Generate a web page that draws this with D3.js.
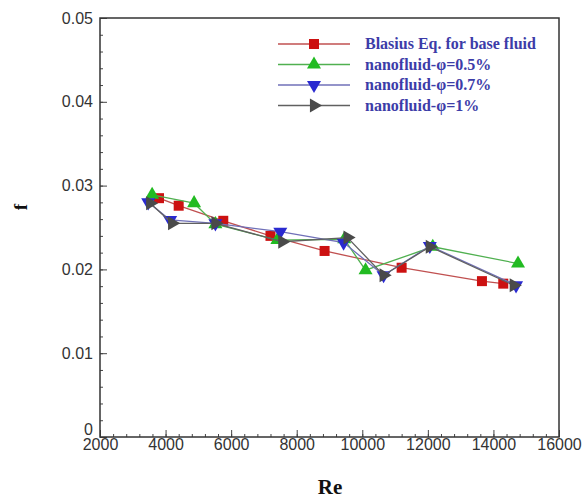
<!DOCTYPE html>
<html>
<head>
<meta charset="utf-8">
<script src="https://cdn.jsdelivr.net/npm/d3@7"></script>
<style>
  body { margin: 0; background: #fff; }
  svg { display: block; }
</style>
</head>
<body>
<div id="chart"></div>
<script>
// data
var seriesNames = ["Blasius Eq. for base fluid", "nanofluid-\u03c6=0.5%", "nanofluid-\u03c6=0.7%", "nanofluid-\u03c6=1%"];

var blasiusRe = [3800, 4400, 5760, 7200, 8850, 11200, 13650, 14300];
var blasiusF  = [0.0285, 0.0276, 0.0258, 0.0240, 0.0222, 0.0202, 0.0186, 0.0183];

var phi05Re = [3590, 4870, 5520, 7410, 9450, 10100, 12150, 14750];
var phi05F  = [0.0289, 0.0279, 0.0254, 0.0235, 0.0236, 0.0199, 0.0227, 0.0207];

var phi07Re = [3470, 4140, 5520, 7500, 9430, 10650, 12060, 14690];
var phi07F  = [0.0280, 0.0259, 0.0255, 0.0245, 0.0232, 0.0193, 0.0228, 0.0181];

var phi1Re = [3530, 4200, 5520, 7560, 9550, 10650, 12060, 14620];
var phi1F  = [0.0279, 0.0255, 0.0255, 0.0233, 0.0238, 0.0193, 0.0227, 0.0181];

var xTicks = [2000, 4000, 6000, 8000, 10000, 12000, 14000, 16000];
var yTicks = [0, 0.01, 0.02, 0.03, 0.04, 0.05];

var svgWidth = 584, svgHeight = 500;
var plotLeft = 100, plotRight = 559, plotTop = 18, plotBottom = 437;

var svg = d3.select('#chart').append('svg').attr('width', svgWidth).attr('height', svgHeight);

var x = d3.scaleLinear().domain([2000, 16000]).range([plotLeft, plotRight]);
var y = d3.scaleLinear().domain([0, 0.05]).range([plotBottom, plotTop]);

// minor ticks
var xMinor = d3.range(2000, 16001, 400);
var yMinor = d3.range(0, 0.0501, 0.002);

svg.append('g').attr('transform', 'translate(0,' + plotBottom + ')')
    .call(d3.axisBottom(x).tickValues(xMinor).tickSize(-3).tickFormat(''))
    .call(function(g) { g.select('.domain').remove(); })
    .selectAll('line').attr('stroke', '#444');

svg.append('g').attr('transform', 'translate(' + plotLeft + ',0)')
    .call(d3.axisLeft(y).tickValues(yMinor).tickSize(-3).tickFormat(''))
    .call(function(g) { g.select('.domain').remove(); })
    .selectAll('line').attr('stroke', '#444');

// major axes
var xAxis = svg.append('g').attr('transform', 'translate(0,' + plotBottom + ')')
    .call(d3.axisBottom(x).tickValues(xTicks).tickSize(-7).tickPadding(2).tickFormat(d3.format('d')));
xAxis.select('.domain').remove();
xAxis.selectAll('line').attr('stroke', '#444');
xAxis.selectAll('text')
    .attr('font-family', 'Liberation Sans, Arial, sans-serif')
    .attr('font-size', 16).attr('fill', '#333');

var yAxis = svg.append('g').attr('transform', 'translate(' + plotLeft + ',0)')
    .call(d3.axisLeft(y).tickValues(yTicks).tickSize(-7).tickPadding(7).tickFormat(function(d) { return d === 0 ? '0' : d3.format('.2f')(d); }));
yAxis.select('.domain').remove();
yAxis.selectAll('line').attr('stroke', '#444');
yAxis.selectAll('text')
    .attr('font-family', 'Liberation Sans, Arial, sans-serif')
    .attr('font-size', 16).attr('fill', '#333');
yAxis.selectAll('.tick').filter(function(d) { return d === 0; }).select('text').attr('dy', '-0.15em');

// frame
svg.append('rect')
    .attr('x', plotLeft).attr('y', plotTop)
    .attr('width', plotRight - plotLeft).attr('height', plotBottom - plotTop)
    .attr('fill', 'none').attr('stroke', '#333').attr('stroke-width', 1.5);

// series
var series = [
    { re: blasiusRe, f: blasiusF, line: '#c05050', fill: '#cc1111', shape: d3.symbolSquare, rot: 0, size: 100 },
    { re: phi05Re, f: phi05F, line: '#50b050', fill: '#22bb22', shape: d3.symbolTriangle, rot: 0, size: 85 },
    { re: phi07Re, f: phi07F, line: '#7070b8', fill: '#2a2ad0', shape: d3.symbolTriangle, rot: 180, size: 85 },
    { re: phi1Re, f: phi1F, line: '#606060', fill: '#4a4a4a', shape: d3.symbolTriangle, rot: 90, size: 85 }
];

var line = d3.line().x(function(d) { return x(d[0]); }).y(function(d) { return y(d[1]); });

series.forEach(function(s) {
    var pts = s.re.map(function(r, i) { return [r, s.f[i]]; });
    svg.append('path').datum(pts)
        .attr('d', line).attr('fill', 'none')
        .attr('stroke', s.line).attr('stroke-width', 1.3);
    svg.selectAll(null).data(pts).enter().append('path')
        .attr('d', d3.symbol().type(s.shape).size(s.size))
        .attr('transform', function(d) { return 'translate(' + x(d[0]) + ',' + y(d[1]) + ') rotate(' + s.rot + ')'; })
        .attr('fill', s.fill);
});

// legend
var legend = svg.append('g');
series.forEach(function(s, i) {
    var ly = 44 + i * 20.5;
    legend.append('line').attr('x1', 278).attr('x2', 350).attr('y1', ly).attr('y2', ly)
        .attr('stroke', s.line).attr('stroke-width', 1.3);
    legend.append('path')
        .attr('d', d3.symbol().type(s.shape).size(s.size))
        .attr('transform', 'translate(314,' + ly + ') rotate(' + s.rot + ')')
        .attr('fill', s.fill);
    legend.append('text').attr('x', 365).attr('y', ly + 5)
        .attr('font-family', 'Liberation Serif, Times New Roman, serif')
        .attr('font-weight', 'bold').attr('font-size', 16)
        .attr('fill', '#3c3ca8')
        .text(seriesNames[i]);
});

// axis titles
svg.append('text').attr('x', 330).attr('y', 494).attr('text-anchor', 'middle')
    .attr('font-family', 'Liberation Serif, Times New Roman, serif')
    .attr('font-weight', 'bold').attr('font-size', 21).attr('fill', '#111')
    .text('Re');

svg.append('text').attr('transform', 'translate(27,207) rotate(-90)').attr('text-anchor', 'middle')
    .attr('font-family', 'Liberation Serif, Times New Roman, serif')
    .attr('font-weight', 'bold').attr('font-size', 19).attr('fill', '#111')
    .text('f');
</script>
</body>
</html>
